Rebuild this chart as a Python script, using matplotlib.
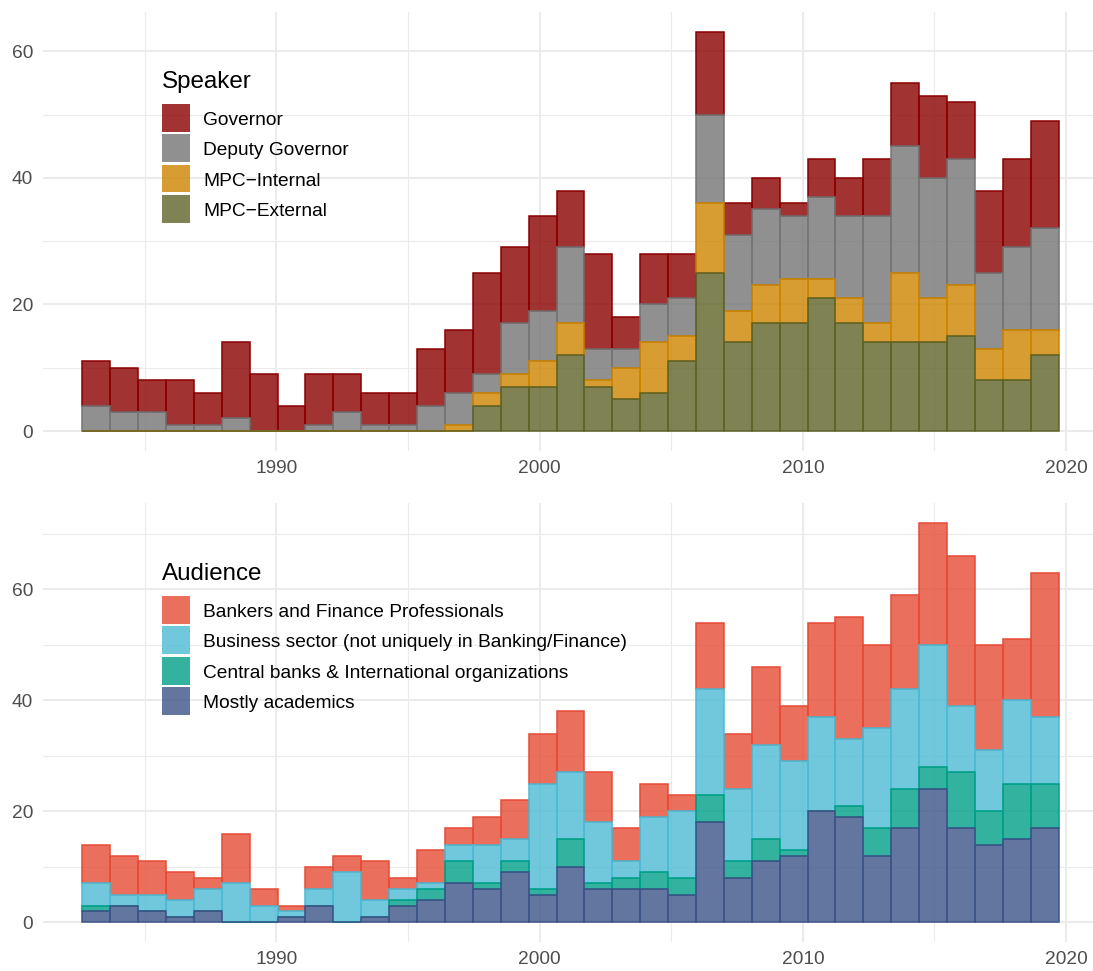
import numpy as np
import matplotlib.pyplot as plt
from matplotlib.patches import Rectangle
from matplotlib.colors import to_rgba

plt.rcParams['font.family'] = ['Liberation Sans', 'DejaVu Sans']

# histogram bins (years), 35 bins
bin_start = 1982.62
bin_width = 1.06
n_bins = 35

# speeches per bin, by speaker (stack: first is on top)
speakers = ["Governor", "Deputy Governor", "MPC\u2212Internal", "MPC\u2212External"]
governor = [7, 7, 5, 7, 5, 12, 9, 4, 8, 6, 5, 5, 9, 10, 16, 12, 15, 9, 15, 5,
            8, 7, 13, 5, 5, 2, 6, 6, 9, 10, 13, 9, 13, 14, 17]
deputy = [4, 3, 3, 1, 1, 2, 0, 0, 1, 3, 1, 1, 4, 5, 3, 8, 8, 12, 5, 3,
          6, 6, 14, 12, 12, 10, 13, 13, 17, 20, 19, 20, 12, 13, 16]
mpc_internal = [0, 0, 0, 0, 0, 0, 0, 0, 0, 0, 0, 0, 0, 1, 2, 2, 4, 5, 1, 5,
                8, 4, 11, 5, 6, 7, 3, 4, 3, 11, 7, 8, 5, 8, 4]
mpc_external = [0, 0, 0, 0, 0, 0, 0, 0, 0, 0, 0, 0, 0, 0, 4, 7, 7, 12, 7, 5,
                6, 11, 25, 14, 17, 17, 21, 17, 14, 14, 14, 15, 8, 8, 12]

# speeches per bin, by audience
audiences = ["Bankers and Finance Professionals",
             "Business sector (not uniquely in Banking/Finance)",
             "Central banks & International organizations",
             "Mostly academics"]
bankers = [7, 7, 6, 5, 2, 9, 3, 1, 4, 3, 7, 2, 6, 3, 5, 7, 9, 11, 9, 6,
           6, 3, 12, 10, 14, 10, 17, 22, 15, 17, 22, 27, 19, 11, 26]
business = [4, 2, 3, 3, 4, 7, 3, 1, 3, 9, 3, 2, 1, 3, 7, 4, 19, 12, 11, 3,
            10, 12, 19, 13, 17, 16, 17, 12, 18, 18, 22, 12, 11, 15, 12]
central_banks = [1, 0, 0, 0, 0, 0, 0, 0, 0, 0, 0, 1, 2, 4, 1, 2, 1, 5, 1, 2,
                 3, 3, 5, 3, 4, 1, 0, 2, 5, 7, 4, 10, 6, 10, 8]
academics = [2, 3, 2, 1, 2, 0, 0, 1, 3, 0, 1, 3, 4, 7, 6, 9, 5, 10, 6, 6,
             6, 5, 18, 8, 11, 12, 20, 19, 12, 17, 24, 17, 14, 15, 17]

speaker_colors = ["#8B0000", "#757575", "#CD8500", "#5F6328"]
audience_colors = ["#E64B35", "#4DBBD5", "#00A087", "#3C5488"]
ALPHA = 0.8

W, H = 1093, 971
fig = plt.figure(figsize=(W / 100, H / 100), dpi=100)


def fx(px):
    return px / W


def fy(py):
    return 1 - py / H


def stacked_hist(ax, layers, colors):
    edges = bin_start + bin_width * np.arange(n_bins + 1)
    # bottoms: last layer sits at the bottom of the stack
    bottoms = []
    acc = np.zeros(n_bins)
    for vals in reversed(layers):
        bottoms.append(acc.copy())
        acc = acc + np.array(vals)
    bottoms = bottoms[::-1]
    # draw the top layer first, like ggplot does
    for vals, bot, col in zip(layers, bottoms, colors):
        ax.bar(edges[:-1], vals, width=bin_width, bottom=bot, align='edge',
               facecolor=to_rgba(col, ALPHA), edgecolor=col, linewidth=1.1)


def style_axes(ax, ylim, yminor):
    ax.set_xlim(1981.14, 2021.2)
    ax.set_ylim(*ylim)
    ax.set_xticks([1990, 2000, 2010, 2020])
    ax.set_xticks([1985, 1995, 2005, 2015], minor=True)
    ax.set_yticks([0, 20, 40, 60])
    ax.set_yticks(yminor, minor=True)
    ax.grid(which='major', color='#EBEBEB', linewidth=1.5)
    ax.grid(which='minor', color='#EBEBEB', linewidth=0.8)
    ax.set_axisbelow(True)
    for s in ax.spines.values():
        s.set_visible(False)
    ax.tick_params(which='both', length=0, labelsize=13.8, labelcolor='#4D4D4D')
    ax.tick_params(axis='x', pad=6.5)
    ax.tick_params(axis='y', pad=7.5)


def legend(title, labels, colors, title_base, key_top):
    fig.text(fx(161.7), fy(title_base), title, fontsize=17.4, va='baseline',
             ha='left', color='black')
    for i, (lab, col) in enumerate(zip(labels, colors)):
        top = key_top + i * 30.4
        fig.patches.append(Rectangle((fx(162.3), fy(top + 27.7)), 27.7 / W, 27.7 / H,
                                     transform=fig.transFigure, facecolor=to_rgba(col, ALPHA),
                                     edgecolor='none', zorder=5))
        fig.text(fx(203.3), fy(top + 13.85 + 6.9), lab, fontsize=13.8, va='baseline',
                 ha='left', color='black')


ax1 = fig.add_axes([fx(43.3), fy(451), (1097.6 - 43.3) / W, (451 - 12.3) / H])
stacked_hist(ax1, [governor, deputy, mpc_internal, mpc_external], speaker_colors)
style_axes(ax1, (-3.15, 66.15), [10, 30, 50])
legend("Speaker", speakers, speaker_colors, 88.3, 104)

ax2 = fig.add_axes([fx(43.3), fy(942.3), (1097.6 - 43.3) / W, (942.3 - 502.7) / H])
stacked_hist(ax2, [bankers, business, central_banks, academics], audience_colors)
style_axes(ax2, (-3.6, 75.6), [10, 30, 50, 70])
legend("Audience", audiences, audience_colors, 580, 596)

fig.savefig("out.png", dpi=100)
